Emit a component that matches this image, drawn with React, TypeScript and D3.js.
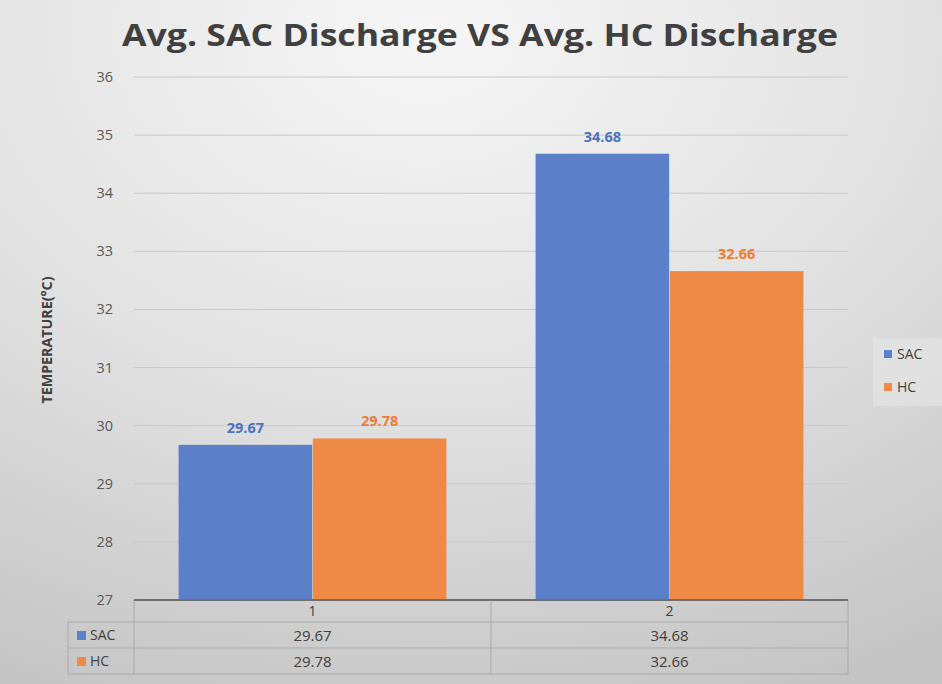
import React from "react";
import * as d3 from "d3";

const categories = ["1", "2"];
const seriesNames = ["SAC", "HC"];
const sacValues = [29.67, 34.68];
const hcValues = [29.78, 32.66];
const yTicks = [27, 28, 29, 30, 31, 32, 33, 34, 35, 36];
const title = "Avg. SAC Discharge VS Avg. HC Discharge";
const yAxisTitle = "TEMPERATURE(°C)";

const W = 942;
const H = 684;
const barColors = ["#5b80c9", "#ee8a46"];
const labelColors = ["#4a72c0", "#ec7d33"];

export default function App() {
  const left = 134, right = 848, top = 77, bottom = 600;
  const y = d3.scaleLinear().domain([27, 36]).range([bottom, top]);
  const x0 = d3.scaleBand<string>().domain(categories).range([left, right]).paddingInner(0).paddingOuter(0);
  const x1 = d3.scaleBand<string>().domain(seriesNames).range([0, x0.bandwidth()]).paddingInner(0.005).paddingOuter(0.332);
  const seriesValues = [sacValues, hcValues];
  const rowH = 26;
  const headerTop = bottom, headerBot = 622;
  const row1Bot = headerBot + rowH, row2Bot = row1Bot + rowH;
  const tableLeft = 68;
  const gridC = "#a9a9a9";

  return (
    <div style={{ position: "absolute", left: 0, top: 0 }}>
      <svg width={W} height={H} style={{ display: "block" }} fontFamily="'Open Sans', 'Noto Sans', sans-serif">
        <defs>
          <radialGradient id="bg" cx="0.45" cy="0.05" r="1.05">
            <stop offset="0" stopColor="#f6f6f6" />
            <stop offset="0.5" stopColor="#e2e2e2" />
            <stop offset="1" stopColor="#c4c4c4" />
          </radialGradient>
        </defs>
        <rect x={0} y={0} width={W} height={H} fill="url(#bg)" />
        <text x={480} y={46} textAnchor="middle" fontSize={31} fontWeight={700} fill="#404040" textLength={716} lengthAdjust="spacingAndGlyphs">
          {title}
        </text>
        {/* gridlines */}
        {yTicks.slice(1).map((t) => (
          <line key={t} x1={left} x2={right} y1={y(t)} y2={y(t)} stroke="#c8c8c8" strokeWidth={1} />
        ))}
        {/* tick labels */}
        {yTicks.map((t) => (
          <text key={"l" + t} x={113} y={y(t) + 5} textAnchor="end" fontSize={14.5} fill="#595959">
            {t}
          </text>
        ))}
        <text
          transform={`translate(52,${340}) rotate(-90)`}
          textAnchor="middle"
          fontSize={14.5}
          fontWeight={700}
          fill="#404040"
          textLength={127}
          lengthAdjust="spacingAndGlyphs"
        >
          {yAxisTitle}
        </text>
        {/* bars */}
        {categories.map((c, ci) =>
          seriesNames.map((s, si) => {
            const v = seriesValues[si][ci];
            const bx = (x0(c) ?? 0) + (x1(s) ?? 0);
            const bw = x1.bandwidth();
            return (
              <g key={c + s}>
                <rect x={bx} y={y(v)} width={bw} height={bottom - y(v)} fill={barColors[si]} />
                <text x={bx + bw / 2} y={y(v) - 12} textAnchor="middle" fontSize={14.5} fontWeight={700} fill={labelColors[si]}>
                  {v.toFixed(2)}
                </text>
              </g>
            );
          })
        )}
        {/* data table */}
        <line x1={left} x2={left} y1={headerTop} y2={row2Bot} stroke={gridC} />
        {categories.map((c) => (
          <line key={"v" + c} x1={(x0(c) ?? 0) + x0.bandwidth()} x2={(x0(c) ?? 0) + x0.bandwidth()} y1={headerTop} y2={row2Bot} stroke={gridC} />
        ))}
        <line x1={tableLeft} x2={right} y1={headerBot} y2={headerBot} stroke={gridC} />
        <line x1={tableLeft} x2={right} y1={row1Bot} y2={row1Bot} stroke={gridC} />
        <line x1={tableLeft} x2={right} y1={row2Bot} y2={row2Bot} stroke={gridC} />
        <line x1={tableLeft} x2={tableLeft} y1={headerBot} y2={row2Bot} stroke={gridC} />
        <line x1={left} x2={right} y1={bottom} y2={bottom} stroke="#6e6e6e" strokeWidth={2} />
        {categories.map((c) => (
          <text key={"c" + c} x={(x0(c) ?? 0) + x0.bandwidth() / 2} y={616} textAnchor="middle" fontSize={14} fill="#404040">
            {c}
          </text>
        ))}
        {seriesNames.map((s, si) => {
          const ry = headerBot + si * rowH;
          return (
            <g key={"r" + s}>
              <rect x={77} y={ry + 9} width={9} height={9} fill={barColors[si]} />
              <text x={90} y={ry + 18} fontSize={14} fill="#404040">
                {s}
              </text>
              {categories.map((c, ci) => (
                <text key={c} x={(x0(c) ?? 0) + x0.bandwidth() / 2} y={ry + 19} textAnchor="middle" fontSize={15} fill="#404040">
                  {seriesValues[si][ci].toFixed(2)}
                </text>
              ))}
            </g>
          );
        })}
        {/* legend */}
        <rect x={873} y={338} width={69} height={68} fill="#e6e6e6" opacity={0.6} />
        {seriesNames.map((s, si) => (
          <g key={"lg" + s}>
            <rect x={884} y={350 + si * 33} width={8} height={8} fill={barColors[si]} />
            <text x={897} y={359 + si * 33} fontSize={14} fill="#404040">
              {s}
            </text>
          </g>
        ))}
      </svg>
    </div>
  );
}
